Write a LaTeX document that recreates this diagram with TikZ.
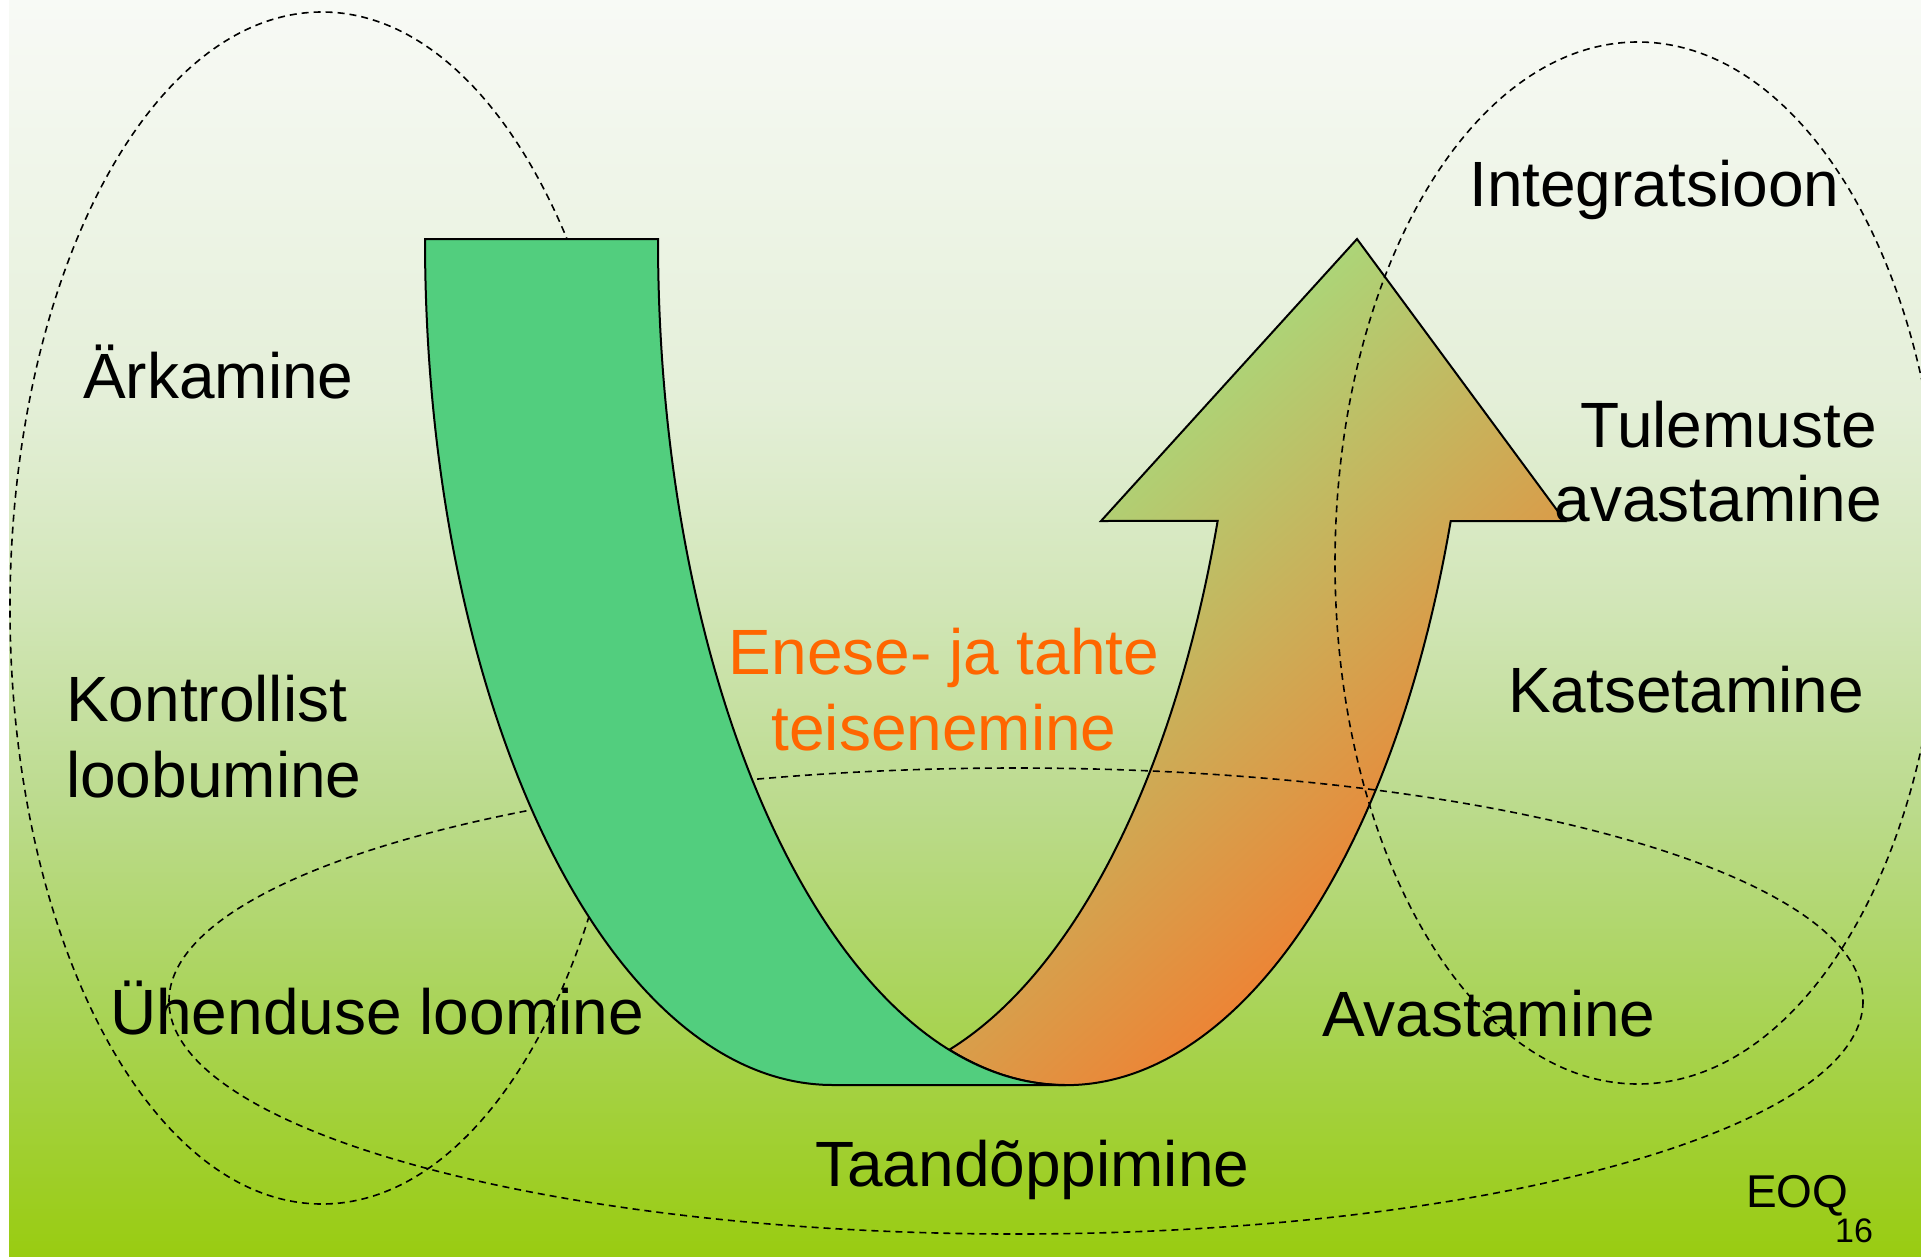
\documentclass[tikz,border=0pt]{standalone}
\usepackage{fontspec}
\setmainfont{Liberation Sans}
\definecolor{bandgreen}{HTML}{52CE7E}
\definecolor{arrgreen}{HTML}{A8DA7C}
\definecolor{arrorange}{HTML}{F47B2E}
\definecolor{txtorange}{HTML}{FF6600}
\definecolor{bgA}{HTML}{F8FAF6}
\definecolor{bgB}{HTML}{E4EFD8}
\definecolor{bgC}{HTML}{D2E6B8}
\definecolor{bgD}{HTML}{BCDB8E}
\definecolor{bgE}{HTML}{AAD45A}
\definecolor{bgF}{HTML}{99CC11}
\pgfdeclareverticalshading{bgshade}{100bp}{color(0bp)=(bgF); color(25bp)=(bgF); color(35.19bp)=(bgE); color(43.15bp)=(bgD); color(51.11bp)=(bgC); color(59.08bp)=(bgB); color(75bp)=(bgA); color(100bp)=(bgA)}
\pgfdeclareverticalshading{arrshade}{100bp}{color(0bp)=(arrorange); color(33bp)=(arrorange); color(70bp)=(arrgreen); color(100bp)=(arrgreen)}
\tikzset{
  lbl/.style={inner sep=0pt, text=black, font=\fontsize{64}{76}\selectfont},
  orlbl/.style={lbl, text=txtorange},
  dashell/.style={draw=black, line width=1.6pt, dash pattern=on 7pt off 5pt},
  outline/.style={draw=black, line width=2pt, line join=miter}
}
\begin{document}
\begin{tikzpicture}[x=1pt,y=-1pt]
\useasboundingbox (0,0) rectangle (1921,1256);
\clip (0,0) rectangle (1921,1256);
\fill[white] (0,0) rectangle (1921,1256);
\shade[shading=bgshade] (9,0) rectangle (1921,1256);
% orange U-turn arrow
\shadedraw[shading=arrshade, shading angle=42, outline]
  (949.5,1049.6) arc[start angle=73.408, end angle=19.471, x radius=408, y radius=846]
  -- (1101,521) -- (1357,239) -- (1565,521) -- (1450.7,521)
  arc[start angle=19.471, end angle=106.592, x radius=408, y radius=846] -- cycle;
% dashed ellipses (behind green band)
\draw[dashell] (322,608) ellipse[x radius=312, y radius=596];
\draw[dashell] (1016,1001) ellipse[x radius=847, y radius=233];
% green band
\filldraw[fill=bandgreen, outline] (425,239) -- (658,239)
  arc[start angle=180, end angle=90, x radius=408, y radius=846]
  -- (833,1085)
  arc[start angle=90, end angle=180, x radius=408, y radius=846] -- cycle;
% right dashed ellipse
\draw[dashell] (1638,563) ellipse[x radius=303, y radius=521];
% labels
\node[lbl, anchor=base west] (ark) at (83,398) {Ärkamine};
\node[lbl, anchor=base west] (kontroll) at (66,721) {Kontrollist};
\node[lbl, anchor=base west] (loobu) at (66,797) {loobumine};
\node[lbl, anchor=base west] (yhendus) at (110,1034) {Ühenduse loomine};
\node[lbl, anchor=base west] (taand) at (815,1186) {Taandõppimine};
\node[lbl, anchor=base west] (avast) at (1322,1036) {Avastamine};
\node[lbl, anchor=base west] (katse) at (1508,712) {Katsetamine};
\node[lbl, anchor=base east] (tulem) at (1877,447) {Tulemuste};
\node[lbl, anchor=base east] (avast2) at (1882,521) {avastamine};
\node[lbl, anchor=base west] (integr) at (1469,206) {Integratsioon};
\node[orlbl, anchor=base] (enese) at (944,674) {Enese- ja tahte};
\node[orlbl, anchor=base] (teisen) at (944,750) {teisenemine};
\node[inner sep=0pt, font=\fontsize{46}{55}\selectfont, anchor=base west] (eoq) at (1746,1207) {EOQ};
\node[inner sep=0pt, font=\fontsize{34}{40}\selectfont, anchor=base west] (pnum) at (1835,1242) {16};
\end{tikzpicture}
\end{document}
